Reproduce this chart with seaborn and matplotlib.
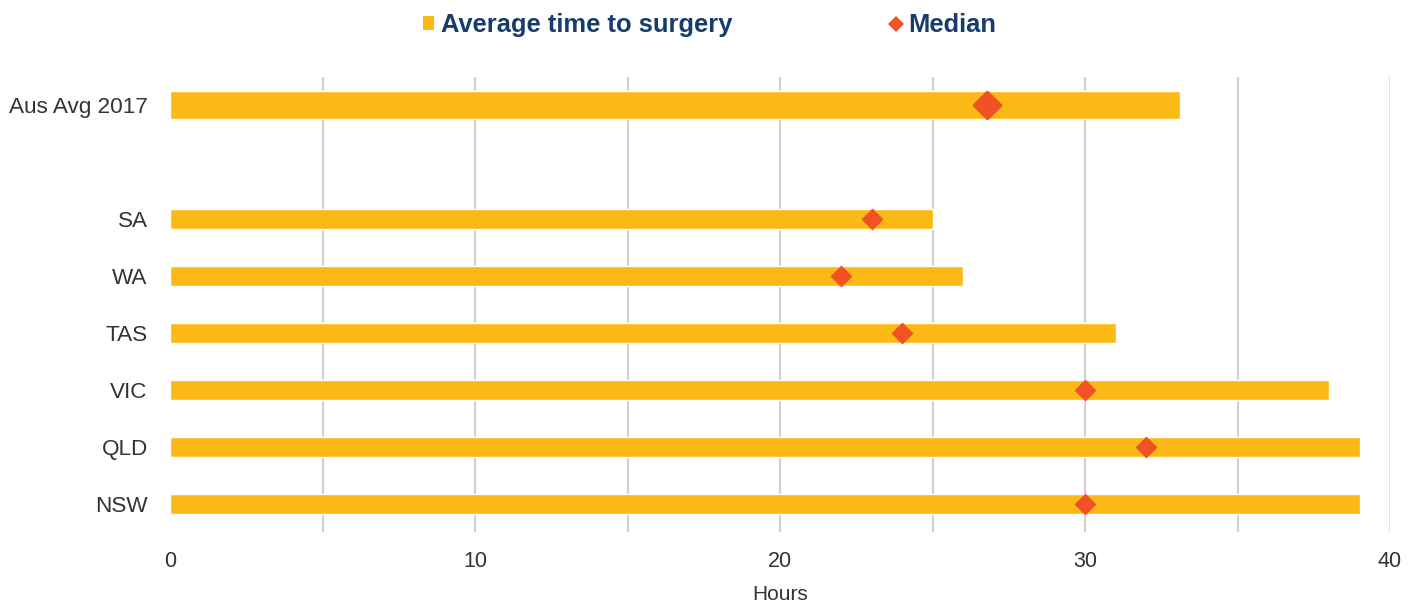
import matplotlib
matplotlib.use("Agg")
import matplotlib.pyplot as plt
import seaborn as sns
import pandas as pd
from matplotlib.patches import Patch
from matplotlib.lines import Line2D

# Time from hospital admission to hip-fracture surgery, in hours
national_label = "Aus Avg 2017"
national_average = 33.1
national_median = 26.8

states = ["SA", "WA", "TAS", "VIC", "QLD", "NSW"]
state_average = [25, 26, 31, 38, 39, 39]
state_median = [23, 22, 24, 30, 32, 30]

x_ticks = [0, 10, 20, 30, 40]

BAR_COLOR = "#FCB916"
MEDIAN_COLOR = "#F05125"
LEGEND_TEXT = "#173C6B"
TEXT_COLOR = "#333333"
GRID_COLOR = "#D0D0D0"

sns.set_style("white")
plt.rcParams["font.family"] = ["Liberation Sans", "DejaVu Sans"]

# blank slot separates the national figure from the states
order = [national_label, " "] + states

national_df = pd.DataFrame({"region": [national_label],
                            "average": [national_average],
                            "median": [national_median]})
state_df = pd.DataFrame({"region": states,
                         "average": state_average,
                         "median": state_median})

fig = plt.figure(figsize=(14.19, 6.08), dpi=100)
ax = fig.add_axes([0.1198, 0.125, 0.8598, 0.7484])

sns.barplot(data=national_df, x="average", y="region", order=order,
            orient="h", color=BAR_COLOR, saturation=1, width=0.49,
            errorbar=None, ax=ax)
sns.barplot(data=state_df, x="average", y="region", order=order,
            orient="h", color=BAR_COLOR, saturation=1, width=0.35,
            errorbar=None, ax=ax)

sns.stripplot(data=national_df, x="median", y="region", order=order,
              orient="h", jitter=False, marker="D", size=13.5,
              color=MEDIAN_COLOR, linewidth=2.2, edgecolor=MEDIAN_COLOR,
              ax=ax, zorder=4)
sns.stripplot(data=state_df, x="median", y="region", order=order,
              orient="h", jitter=False, marker="D", size=11.2,
              color=MEDIAN_COLOR, linewidth=0, ax=ax, zorder=4)
for coll in ax.collections[:1]:
    coll.set_joinstyle("round")

ax.set_xlim(0, 40)
ax.set_xticks(x_ticks)
ax.set_xticks(range(5, 40, 10), minor=True)
ax.set_ylim(len(order) - 0.5, -0.5)
ax.grid(axis="x", which="both", color=GRID_COLOR, linewidth=1.5)
ax.set_axisbelow(True)
gl = ax.get_xgridlines()
gl[0].set_visible(False)
gl[-1].set_color("#E4E4E4")

for s in ax.spines.values():
    s.set_visible(False)
ax.tick_params(axis="both", which="both", length=0, labelsize=15.5,
               labelcolor=TEXT_COLOR)
ax.tick_params(axis="y", labelsize=16.2, pad=16)
ax.tick_params(axis="x", pad=14)
ax.set_ylabel("")
ax.set_xlabel("Hours", fontsize=15, color=TEXT_COLOR, labelpad=9)

handles = [
    Patch(facecolor=BAR_COLOR, edgecolor="none", label="Average time to surgery"),
    Line2D([], [], marker="D", linestyle="none", markersize=8.5,
           markerfacecolor=MEDIAN_COLOR, markeredgewidth=0, label="Median"),
]
leg = fig.legend(handles=handles, loc="center", bbox_to_anchor=(0.5, 0.959),
                 ncol=2, frameon=False, handlelength=0.45, handleheight=0.45,
                 handletextpad=0.25, columnspacing=6.2,
                 prop={"size": 18.4, "weight": "bold"})
for t in leg.get_texts():
    t.set_color(LEGEND_TEXT)

fig.savefig("out.png", dpi=100)
